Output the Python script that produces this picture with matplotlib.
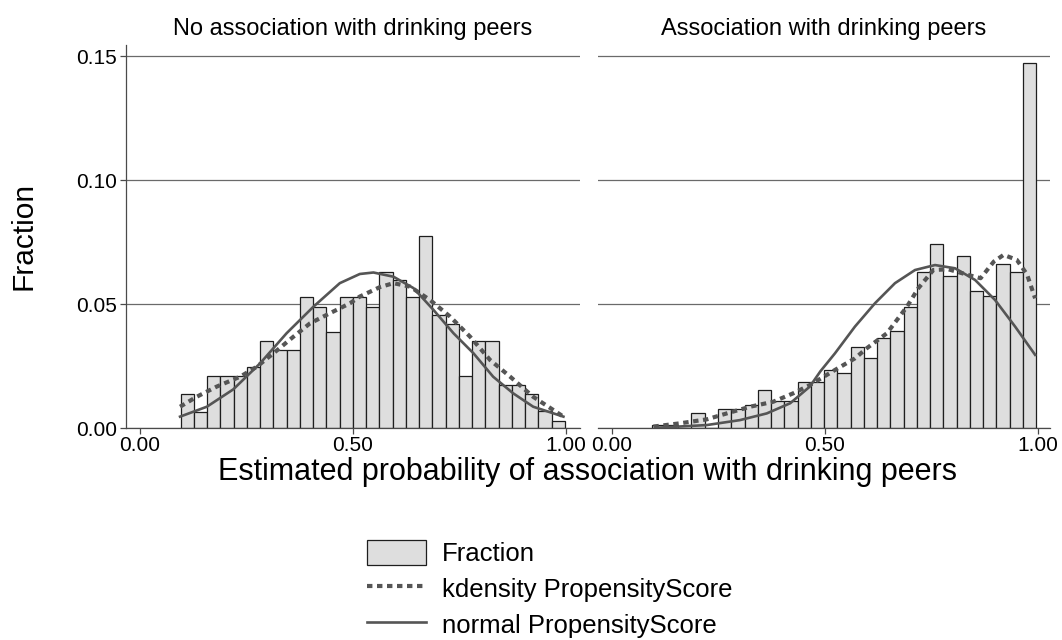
import matplotlib
matplotlib.use("Agg")
import matplotlib.pyplot as plt
from matplotlib.patches import Patch
from matplotlib.lines import Line2D

plt.rcParams['font.family'] = ['Liberation Sans', 'DejaVu Sans']

# ---------------- data ----------------
panel_titles = ["No association with drinking peers", "Association with drinking peers"]
x_label = "Estimated probability of association with drinking peers"
y_label = "Fraction"
x_ticks = [0.0, 0.5, 1.0]
x_tick_labels = ["0.00", "0.50", "1.00"]
y_ticks = [0.0, 0.05, 0.10, 0.15]
y_tick_labels = ["0.00", "0.05", "0.10", "0.15"]
legend_labels = ["Fraction", "kdensity PropensityScore", "normal PropensityScore"]

left_bin_start, left_bin_width = 0.0955, 0.0311
right_bin_start, right_bin_width = 0.0939, 0.03113

left_frac = [0.0138, 0.0067, 0.0211, 0.0211, 0.0211, 0.0246, 0.0353, 0.0316, 0.0316,
             0.0528, 0.0490, 0.0387, 0.0528, 0.0528, 0.0490, 0.0631, 0.0598, 0.0528,
             0.0776, 0.0456, 0.0421, 0.0211, 0.0353, 0.0353, 0.0175, 0.0175, 0.0138,
             0.0069, 0.0031]
right_frac = [0.0012, 0.0012, 0.0, 0.0063, 0.0, 0.0077, 0.0077, 0.0094, 0.0154,
              0.0110, 0.0110, 0.0185, 0.0188, 0.0235, 0.0222, 0.0329, 0.0282, 0.0363,
              0.0394, 0.0488, 0.0629, 0.0742, 0.0614, 0.0696, 0.0554, 0.0535, 0.0664,
              0.0630, 0.1474]

left_norm_x = [0.094, 0.157, 0.219, 0.282, 0.344, 0.407, 0.469, 0.516, 0.548, 0.595,
               0.642, 0.689, 0.736, 0.783, 0.829, 0.876, 0.923, 0.994]
left_norm_y = [0.0047, 0.0087, 0.0157, 0.0262, 0.0383, 0.0490, 0.0585, 0.0622, 0.0628,
               0.0611, 0.0565, 0.0477, 0.0383, 0.0302, 0.0208, 0.0141, 0.0087, 0.0047]
left_kd_x = [0.094, 0.133, 0.180, 0.235, 0.274, 0.313, 0.360, 0.399, 0.446, 0.493,
             0.516, 0.563, 0.595, 0.634, 0.681, 0.728, 0.775, 0.822, 0.869, 0.923, 0.994]
left_kd_y = [0.0087, 0.0127, 0.0168, 0.0208, 0.0248, 0.0302, 0.0369, 0.0423, 0.0464,
             0.0504, 0.0531, 0.0569, 0.0585, 0.0571, 0.0517, 0.0450, 0.0369, 0.0275,
             0.0208, 0.0127, 0.0047]

right_norm_x = [0.113, 0.223, 0.301, 0.364, 0.419, 0.465, 0.490, 0.524, 0.571, 0.618,
                0.665, 0.712, 0.759, 0.806, 0.853, 0.900, 0.947, 0.994]
right_norm_y = [0.0003, 0.0013, 0.0033, 0.0060, 0.0101, 0.0168, 0.0230, 0.0302, 0.0410,
                0.0504, 0.0585, 0.0638, 0.0658, 0.0645, 0.0598, 0.0517, 0.0410, 0.0296]
right_kd_x = [0.098, 0.160, 0.223, 0.270, 0.325, 0.379, 0.426, 0.466, 0.524, 0.571,
              0.599, 0.646, 0.693, 0.720, 0.755, 0.790, 0.837, 0.866, 0.897, 0.920,
              0.951, 0.975, 0.994]
right_kd_y = [0.0007, 0.0020, 0.0036, 0.0060, 0.0087, 0.0107, 0.0141, 0.0175, 0.0235,
              0.0282, 0.0323, 0.0383, 0.0490, 0.0565, 0.0638, 0.0641, 0.0618, 0.0605,
              0.0672, 0.0699, 0.0679, 0.0620, 0.0524]

# ---------------- style ----------------
bar_face = "#dedede"
bar_edge = "#1e1e1e"
line_col = "#555555"
grid_col = "#6a6a6a"
axis_col = "#4a4a4a"
dot_style = (0, (1.3, 1.1))

W, H = 1062, 640
fig = plt.figure(figsize=(W / 100, H / 100), dpi=100)

y0_px, ytop_px = 428.3, 45
ax_h = (y0_px - ytop_px) / H
axL = fig.add_axes([126 / W, (H - y0_px) / H, 454 / W, ax_h])
axR = fig.add_axes([598 / W, (H - y0_px) / H, 452 / W, ax_h])

panels = [
    (axL, left_bin_start, left_bin_width, left_frac, left_kd_x, left_kd_y, left_norm_x, left_norm_y, (-0.0329, 1.0329)),
    (axR, right_bin_start, right_bin_width, right_frac, right_kd_x, right_kd_y, right_norm_x, right_norm_y, (-0.0322, 1.0289)),
]

for i, (ax, b0, bw, frac, kx, ky, nx, ny, xl) in enumerate(panels):
    edges = [b0 + k * bw for k in range(len(frac))]
    ax.bar(edges, frac, width=bw, align='edge', facecolor=bar_face,
           edgecolor=bar_edge, linewidth=0.9, zorder=2)
    ax.plot(kx, ky, color=line_col, linewidth=3.0, linestyle=dot_style,
            dash_capstyle='butt', zorder=3)
    ax.plot(nx, ny, color=line_col, linewidth=1.9, linestyle='-', zorder=4,
            solid_joinstyle='round')
    ax.set_xlim(*xl)
    ax.set_ylim(0, 0.1545)
    ax.set_yticks(y_ticks)
    ax.yaxis.grid(True, color=grid_col, linewidth=0.9)
    ax.set_axisbelow(True)
    ax.set_xticks(x_ticks)
    ax.set_xticklabels(x_tick_labels, fontsize=15)
    ax.tick_params(axis='x', direction='out', length=4.5, width=0.9, color=axis_col, pad=1)
    for s in ['top', 'right']:
        ax.spines[s].set_visible(False)
    ax.spines['bottom'].set_color(axis_col)
    ax.spines['bottom'].set_linewidth(0.9)
    ax.set_title(panel_titles[i], fontsize=17, pad=7)
    if i == 0:
        ax.set_yticklabels(y_tick_labels, fontsize=15)
        ax.tick_params(axis='y', direction='out', length=4.5, width=0.9, color=axis_col, pad=2)
        ax.spines['left'].set_color(axis_col)
        ax.spines['left'].set_linewidth(0.9)
    else:
        ax.spines['left'].set_visible(False)
        ax.tick_params(axis='y', length=0, labelleft=False)

fig.text(588 / W, 1 - 472 / H, x_label, ha='center', va='center', fontsize=22)
fig.text(23 / W, 1 - 236 / H, y_label, ha='center', va='center', rotation=90, fontsize=21.5)

handles = [
    Patch(facecolor=bar_face, edgecolor=bar_edge, linewidth=0.9),
    Line2D([], [], color=line_col, linewidth=3.0, linestyle=dot_style, dash_capstyle='butt'),
    Line2D([], [], color=line_col, linewidth=1.9),
]
fig.legend(handles, legend_labels, loc='upper left', bbox_to_anchor=(367 / W, 1 - 540 / H),
           frameon=False, fontsize=18.5, handlelength=2.3, handleheight=1.1,
           handletextpad=0.6, labelspacing=0.38, borderaxespad=0, borderpad=0)

fig.savefig("out.png", dpi=100)
